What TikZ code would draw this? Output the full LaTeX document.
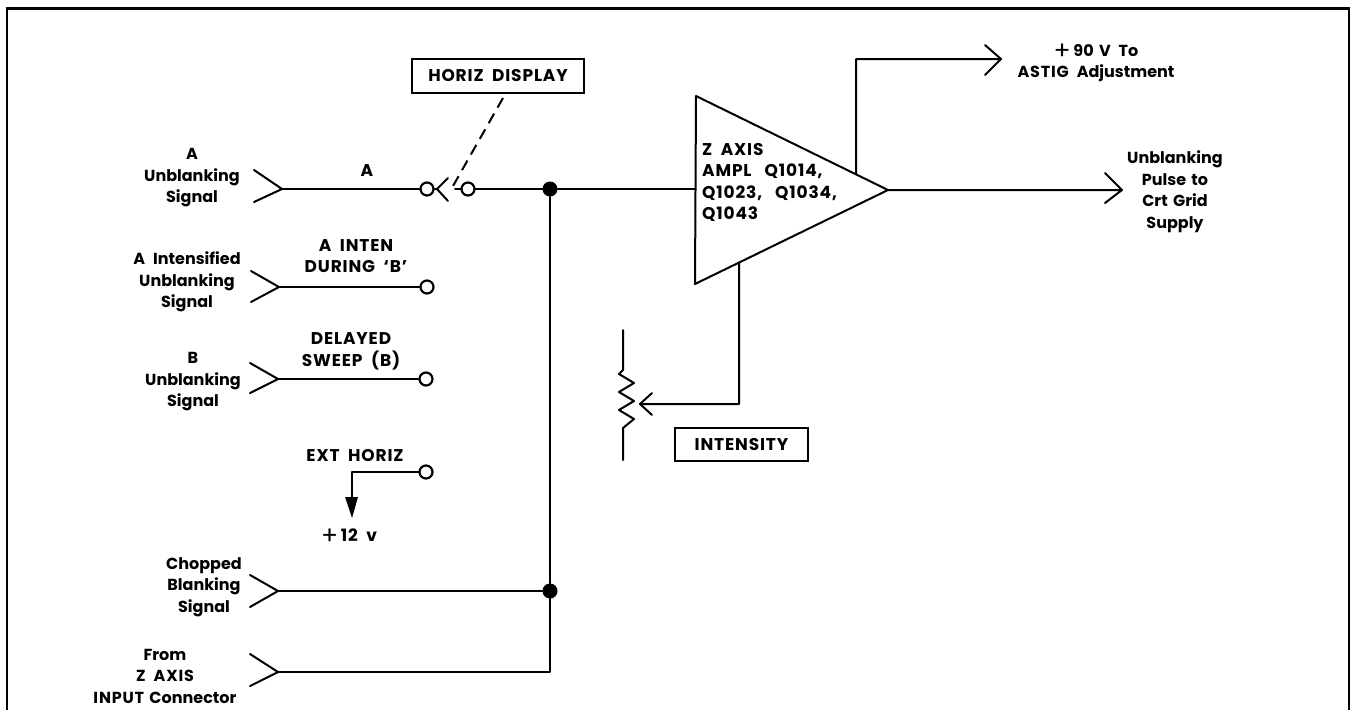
\documentclass[tikz,border=0pt]{standalone}
\usepackage{fontspec}
\setmainfont{Poppins}
\usetikzlibrary{arrows.meta}
\newcommand{\cp}{\addfontfeatures{LetterSpace=5}}
\newcommand{\plusmark}{\smash{\raisebox{-3pt}{\fontsize{25}{16}\selectfont\mdseries +}}}
\newcommand{\wsp}{\hspace{13pt}}
\tikzset{
 x=1pt,y=-1pt,
 wire/.style={line width=2pt,line cap=round,line join=round},
 lbl/.style={font=\fontsize{16}{21.5}\selectfont\bfseries,align=center,inner sep=0pt},
 capslbl/.style={font=\fontsize{17}{21.5}\selectfont\bfseries\cp,align=center,inner sep=0pt},
 tag/.style={draw,line width=2pt,font=\fontsize{17}{20}\selectfont\bfseries\cp,inner sep=0pt},
 term/.style={circle,draw,line width=2.2pt,fill=white,minimum size=13pt,inner sep=0pt},
 dot/.style={circle,fill=black,minimum size=15pt,inner sep=0pt}
}
\begin{document}
\begin{tikzpicture}
\useasboundingbox (0,0) rectangle (1353,710);
% frame
\draw[line width=2.8pt] (7,710) -- (7,8.5) -- (1349,8.5) -- (1349,710);
% input forks
\newcommand{\forkin}[5]{\coordinate (#1) at (#2,#3);
 \draw[wire] (#2-28,#3-#4) -- (#1) -- (#2-28,#3+#5);}
\forkin{fa}{282}{189}{19}{13}\forkin{fb}{279}{287}{16}{15}\forkin{fc}{278}{379}{16}{14}\forkin{fd}{278}{591}{16}{16}\forkin{fe}{278}{672}{18}{14}
\node[lbl] (la) at (192,178) {A\\Unblanking\\Signal};
\node[lbl] (lb) at (187,282) {A\,\,\,Intensified\\Unblanking\\Signal};
\node[lbl] (lc) at (193,382) {B\\Unblanking\\Signal};
\node[lbl] (ld) at (204,587) {Chopped\\Blanking\\Signal};
\node[lbl] (le) at (165,676) {From\\{\cp Z\,\,\,AXIS}\\{\cp INPUT}\,\,Connector};
% terminals
\node[term] (t1) at (427,189) {};
\node[term] (t2) at (468,189) {};
\node[term] (t3) at (427,287) {};
\node[term] (t4) at (426,379) {};
\node[term] (t5) at (426,472) {};
\node[dot] (j1) at (550,189) {};
\node[dot] (j2) at (550,591) {};
\draw[wire] (fa) -- (t1);
\draw[wire] (fb) -- (t3);
\draw[wire] (fc) -- (t4);
\draw[wire] (fd) -- (j2);
\draw[wire] (fe) -- (550,672) -- (j2);
\draw[wire] (j2) -- (j1);
\draw[wire] (t2) -- (j1);
\node[capslbl] (wa) at (367,171) {A};
\node[capslbl] (wb) at (356,256) {A\,\,\,INTEN\\DURING\,\,\,`B'};
\node[capslbl] (wc) at (351,351.5) {DELAYED\\SWEEP\,\,\,(B)};
\node[capslbl] (wd) at (355,456) {EXT\,\,\,HORIZ};
% switch
\coordinate (sw) at (437,189);
\coordinate (stub) at (455,189);
\draw[wire] (t1.east) -- (sw) (448,178) -- (sw) -- (448,201);
\draw[wire] (stub) -- (t2.west);
\node[tag,minimum width=172pt,minimum height=34pt] (hd) at (498,76) {HORIZ\,\,\,DISPLAY};
\draw[wire,line cap=butt,dash pattern=on 11pt off 7pt] (503,98) -- (453,186);
% ext horiz
\coordinate (ec) at (352,472);
\coordinate (et) at (352,518);
\draw[wire] (t5) -- (ec) -- (352,500);
\fill (345,497) -- (358,497) -- (et) -- cycle;
\node[capslbl] (v12) at (349,535) {\plusmark\,12\,\,\,v};
% amp
\coordinate (ampT) at (696,96);
\coordinate (ampB) at (695,284);
\coordinate (ampR) at (888,190);
\draw[wire] (ampT) -- (ampR) -- (ampB) -- cycle;
\node[capslbl,anchor=west,align=left] (al) at (702,182.5) {Z\,\,\,AXIS\\AMPL\wsp Q1014,\\Q1023,\wsp Q1034,\\Q1043};
\draw[wire] (j1) -- (695,189);
% outputs
\coordinate (o1) at (1122,190);
\draw[wire] (ampR) -- (o1) (1105,173) -- (o1) -- (1105,203);
\node[lbl] (lo1) at (1175,191.5) {Unblanking\\Pulse\,\,to\\Crt\,\,Grid\\Supply};
\coordinate (o2) at (856,174);
\coordinate (o3) at (1001,59);
\draw[wire] (o2) -- (856,59) -- (o3) (985,45) -- (o3) -- (985,75);
\node[lbl] (lo2) at (1096,63) {\plusmark\,90\,\,V\,\,\,To\\{\cp ASTIG}\,\,\,Adjustment};
% pot
\coordinate (pa) at (739,263);
\coordinate (pb) at (739,404);
\coordinate (pw) at (640,404);
\draw[wire] (pa) -- (pb) -- (pw) (652,393) -- (pw) -- (652,415);
\draw[wire] (623,330) -- (623,370) -- (619,374) -- (634,383) -- (619,392) -- (634,401) -- (619,410) -- (634,419) -- (623,428) -- (623,460);
\node[tag,minimum width=133pt,minimum height=33pt] (int) at (741.5,444.5) {INTENSITY};
\end{tikzpicture}
\end{document}
